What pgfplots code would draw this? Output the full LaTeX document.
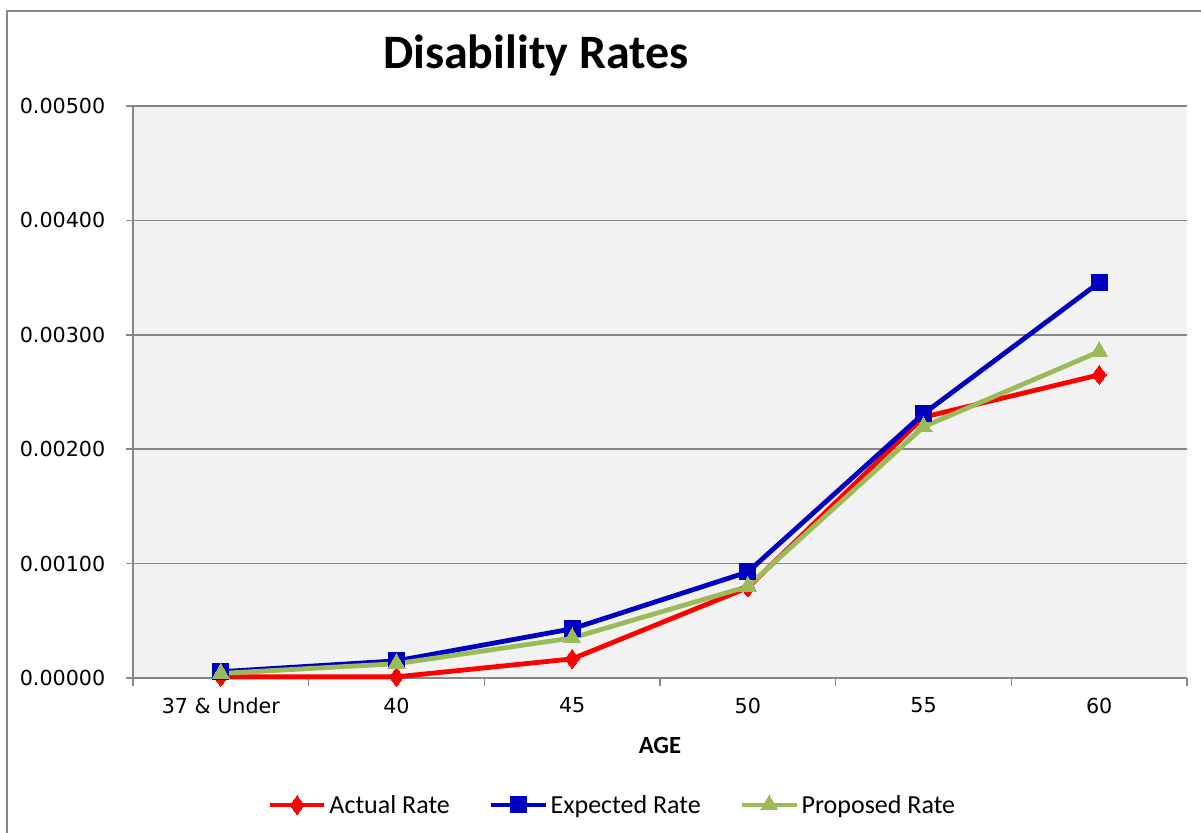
\documentclass[border=0pt]{standalone}
\usepackage{pgfplots}
\pgfplotsset{compat=1.18}
\usepackage{fontspec}
\setmainfont{Carlito}
\newfontfamily\tickfont{DejaVu Sans}
\definecolor{frame}{HTML}{868686}
\definecolor{plotbg}{HTML}{F2F2F2}
\definecolor{cred}{HTML}{FF0000}
\definecolor{cblue}{HTML}{0000C0}
\definecolor{cgreen}{HTML}{9BBB59}
\begin{document}
\begin{tikzpicture}
\clip (0,0) rectangle (900.75pt,624pt);
\path[use as bounding box] (0,0) rectangle (900.75pt,624pt);
\draw[frame, line width=1.1pt] (5.25pt,-20pt) rectangle (920pt,615.75pt);
\begin{axis}[
  at={(99.75pt,115.5pt)}, anchor=south west,
  scale only axis, width=790.5pt, height=429pt,
  xmin=-0.5, xmax=5.5, ymin=0, ymax=0.005,
  axis lines=left, axis line style={-, draw=frame, line width=1.1pt},
  axis background/.style={fill=plotbg},
  xtick={0,1,2,3,4,5},
  xticklabels={37 \& Under,40,45,50,55,60},
  minor xtick={-0.5,0.5,1.5,2.5,3.5,4.5,5.5},
  ytick={0,0.001,0.002,0.003,0.004,0.005},
  scaled y ticks=false,
  /pgf/number format/fixed, /pgf/number format/fixed zerofill,
  /pgf/number format/precision=5, /pgf/number format/assume math mode=true,
  tick label style={font=\tickfont\fontsize{15.5}{18}\selectfont, text=black},
  xticklabel style={yshift=-6pt},
  yticklabel style={xshift=-12pt},
  tick align=outside,
  major tick length=5.25pt, minor tick length=6pt,
  x tick style={draw=none},
  minor x tick style={draw=frame, line width=1.1pt},
  y tick style={draw=frame, line width=1.1pt},
  ymajorgrids, major grid style={draw=frame, line width=1.1pt},
  xlabel={\textbf{AGE}},
  xlabel style={at={(axis description cs:0.5,0)}, anchor=center, yshift=-50.25pt, font=\fontsize{18.5}{22}\selectfont},
  legend columns=3,
  legend style={at={(0.455,-0.222)}, anchor=center, draw=none, fill=none,
    font=\fontsize{19.5}{23}\selectfont, inner sep=0pt,
    /tikz/every even column/.append style={column sep=27pt},
    nodes={inner xsep=2pt}},
  legend image code/.code={
    \draw[#1, mark repeat=2, mark phase=2] plot coordinates {(0pt,0pt) (20.5pt,0pt) (41pt,0pt)};
  },
  clip=false,
]
\addplot[cred, line width=3.6pt, mark=diamond*, mark size=7pt, mark options={solid, line width=0pt}]
  coordinates {(0,0.00001) (1,0.00001) (2,0.000167) (3,0.00079) (4,0.00228) (5,0.00265)};
\addlegendentry{Actual Rate}
\addplot[cblue, line width=3.6pt, mark=square*, mark size=6pt, mark options={solid, line width=0pt}]
  coordinates {(0,0.000055) (1,0.000150) (2,0.00043) (3,0.000927) (4,0.00231) (5,0.003457)};
\addlegendentry{Expected Rate}
\addplot[cgreen, line width=3.6pt, mark=triangle*, mark size=7.5pt, mark options={solid, line width=0pt}]
  coordinates {(0,0.00004) (1,0.000125) (2,0.00035) (3,0.0008) (4,0.002196) (5,0.002853)};
\addlegendentry{Proposed Rate}
\end{axis}
\node[font=\bfseries\fontsize{36}{40}\selectfont, anchor=center] at (402pt,582.75pt) {Disability Rates};
\end{tikzpicture}
\end{document}
